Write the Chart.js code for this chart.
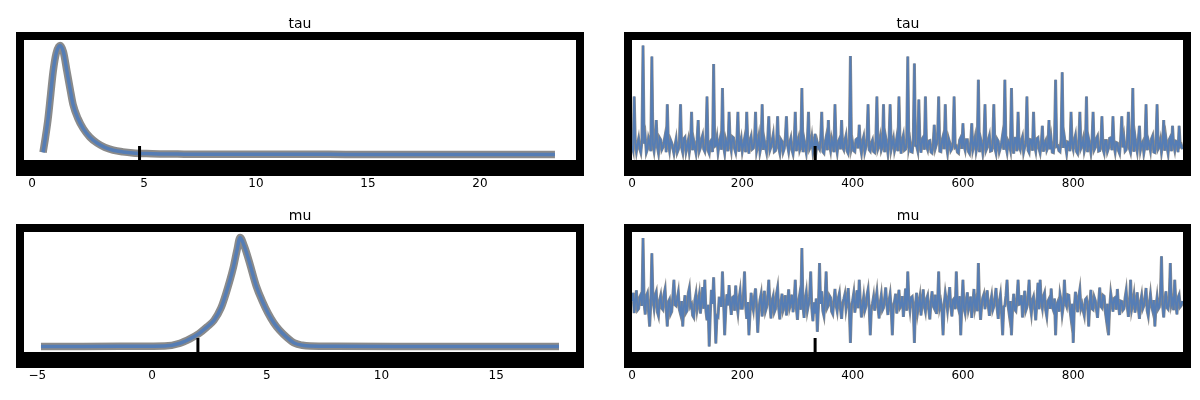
<!DOCTYPE html>
<html><head><meta charset="utf-8">
<script src="https://cdn.jsdelivr.net/npm/chart.js@4.4.1/dist/chart.umd.min.js"></script>
<style>
html,body{margin:0;padding:0;background:#fff;}
#wrap{position:relative;width:1200px;height:400px;overflow:hidden;background:#fff;}
canvas{position:absolute;}
</style></head><body>
<div id="wrap">
<canvas id="c1" width="600" height="200" style="left:0px;top:0px"></canvas>
<canvas id="c2" width="616" height="200" style="left:584px;top:0px"></canvas>
<canvas id="c3" width="600" height="208" style="left:0px;top:192px"></canvas>
<canvas id="c4" width="616" height="208" style="left:584px;top:192px"></canvas>
</div>
<script>
// ---- data ----
const varNames = ['tau', 'mu'];

// KDE of tau (posterior density)
const tauGrid = [0.49, 0.60, 0.71, 0.83, 0.94, 1.08, 1.25, 1.40, 1.56, 1.70, 1.83, 2.05, 2.28, 2.58, 2.90, 3.25, 3.62, 4.05, 4.51, 5.10, 5.71, 6.50, 7.50, 8.50, 10.0, 12.0, 14.0, 16.0, 18.0, 20.0, 22.0, 23.35];
const tauDensity = [0.014, 0.112, 0.224, 0.385, 0.532, 0.651, 0.700, 0.658, 0.532, 0.420, 0.322, 0.231, 0.168, 0.112, 0.074, 0.046, 0.028, 0.017, 0.010, 0.006, 0.004, 0.003, 0.002, 0.002, 0.0014, 0.0014, 0.001, 0.0007, 0.0007, 0.0007, 0.0004, 0.0];

// KDE of mu
const muGrid = [-4.84, -3.0, -1.4, 0.0, 0.55, 1.22, 1.65, 2.05, 2.40, 2.70, 3.00, 3.23, 3.55, 3.70, 3.84, 4.02, 4.22, 4.55, 4.80, 5.06, 5.30, 5.55, 5.90, 6.22, 6.55, 6.89, 8.0, 10.8, 13.0, 15.5, 17.74];
const muDensity = [0.0, 0.001, 0.002, 0.003, 0.004, 0.026, 0.060, 0.102, 0.153, 0.204, 0.298, 0.417, 0.621, 0.748, 0.850, 0.782, 0.672, 0.468, 0.357, 0.259, 0.187, 0.129, 0.068, 0.026, 0.010, 0.004, 0.002, 0.001, 0.001, 0.0004, 0.0];

// trace of tau (every 2nd draw)
const tauTrace = [
2.3,1.4,12.6,3.0,1.1,2.6,3.8,1.7,0.9,3.4,23.3,2.8,4.2,0.9,1.6,3.9,3.1,1.2,21.0,2.5,
1.2,3.3,7.7,2.1,0.8,4.0,3.6,1.5,2.0,3.1,4.4,1.0,11.0,2.7,1.3,3.5,2.9,1.8,0.7,2.4,
3.7,0.9,1.5,3.2,11.0,1.9,0.9,3.8,4.1,1.1,2.2,3.4,1.0,2.6,9.4,1.4,3.3,2.0,0.8,3.6,
7.7,1.2,1.9,3.7,4.5,1.6,1.1,2.9,12.6,1.3,0.7,3.1,3.5,1.0,19.4,2.2,2.4,3.9,1.0,2.7,
3.9,1.5,14.4,2.3,0.8,3.6,2.7,1.2,9.4,2.9,1.4,4.2,4.0,1.7,0.9,3.0,9.4,1.1,2.6,3.8,
1.2,2.5,3.8,1.0,9.4,2.8,0.7,3.5,4.3,1.6,1.8,3.2,9.4,1.3,2.5,4.1,1.0,2.2,11.0,1.5,
3.4,2.0,0.9,3.7,8.5,1.4,2.1,3.3,4.6,1.1,1.3,2.8,8.5,1.9,0.8,3.6,3.2,1.0,1.7,4.0,
8.5,2.4,1.1,3.0,3.9,1.5,0.6,2.7,9.4,1.2,2.8,3.8,1.4,2.1,14.4,1.0,3.6,2.3,0.9,3.4,
9.4,1.7,2.2,3.9,1.2,2.6,4.8,1.3,3.0,2.0,1.6,3.5,9.4,1.1,0.8,2.9,4.1,1.4,7.7,2.5,
1.3,3.7,2.6,1.0,11.0,2.3,0.9,3.1,3.7,1.6,7.7,2.0,1.5,3.4,4.4,1.2,0.7,2.8,21.1,1.9,
2.9,1.3,1.1,3.6,3.8,1.8,6.7,2.2,0.8,3.3,4.2,1.0,2.0,3.7,11.0,1.5,1.2,2.9,3.5,1.1,
0.9,3.0,12.6,1.7,2.4,3.9,1.4,2.1,11.0,1.0,4.0,2.6,0.8,3.4,11.0,1.6,2.7,3.8,1.3,2.3,
3.9,1.2,12.6,2.8,0.7,3.5,4.5,1.4,1.6,3.1,21.0,2.0,3.2,1.1,1.0,3.6,19.5,2.4,2.3,1.3,
12.0,2.9,0.9,3.7,4.1,1.5,12.6,2.2,1.5,3.3,3.4,1.0,0.8,2.6,6.7,1.8,2.6,3.9,12.6,1.2,
1.1,3.4,4.3,1.6,11.0,2.5,0.9,3.8,3.0,1.3,1.7,3.1,12.6,2.0,2.2,1.0,0.8,3.5,4.0,1.7,
7.0,2.3,1.4,3.6,3.6,1.1,0.7,2.8,7.0,1.5,2.5,3.9,1.2,2.4,16.1,1.0,3.8,2.7,0.9,3.2,
11.0,1.4,2.0,3.5,4.4,1.2,1.3,2.9,11.0,1.8,0.8,3.7,3.3,1.1,1.9,3.0,4.6,1.5,16.1,2.2,
1.0,3.3,2.8,1.6,14.4,2.5,0.7,3.9,3.9,1.2,9.4,2.1,1.5,3.4,4.2,1.0,2.1,2.9,12.6,1.4,
0.9,3.6,3.5,1.3,9.4,2.3,1.2,3.8,4.0,1.7,0.8,2.6,6.5,1.1,2.7,3.3,1.4,2.0,7.7,1.6,
3.6,1.0,0.9,3.4,16.1,2.2,2.3,1.3,1.1,3.7,17.7,1.9,4.1,2.4,0.8,3.1,3.0,1.2,9.4,2.6,
1.6,3.5,4.5,1.1,0.7,2.9,9.4,1.8,2.4,3.6,1.2,2.2,12.6,1.0,3.7,2.5,0.9,3.2,9.4,1.5,
2.0,3.8,4.3,1.2,1.3,2.7,8.5,1.6,0.8,3.4,3.4,1.1,1.8,3.9,4.0,1.4,8.5,2.3,1.0,3.0,
2.9,1.3,0.7,3.6,8.5,2.0,3.8,1.2,1.5,3.3,9.4,1.7,0.9,2.8,14.4,1.1,4.2,2.4,1.1,3.5,
6.5,1.5,2.6,3.1,0.8,2.2,11.0,1.4,3.5,2.6,1.3,3.8,4.4,1.0,0.9,3.0,11.0,1.7,2.2,3.4,
1.0,2.7,7.7,1.3,3.9,2.1,0.7,3.6,4.1,1.2,6.5,2.5,1.4,3.3,3.2,1.0,6.5,2.2,2.5,1.6
];

// trace of mu (every 2nd draw)
const muTrace = [
4.6,6.3,2.1,4.9,6.8,2.7,3.0,5.4,5.9,3.6,17.7,4.1,1.8,5.6,6.2,2.4,-0.7,3.9,14.5,5.0,
3.2,5.8,6.5,2.3,1.5,4.7,5.7,3.1,2.8,6.0,7.1,2.9,-0.7,4.4,4.9,1.9,2.4,5.5,9.0,3.8,
3.6,5.1,6.4,2.8,1.9,4.6,-0.7,3.3,5.8,2.2,2.6,6.2,7.3,3.5,3.9,1.6,1.2,4.8,6.1,2.9,
4.4,5.9,2.0,4.3,7.5,3.0,9.0,2.5,0.6,3.8,-4.85,2.1,6.9,4.0,9.5,3.2,-4.2,1.5,1.3,5.2,
5.2,3.4,10.7,4.5,-2.5,2.8,6.0,3.7,7.9,4.2,1.7,5.3,5.5,2.6,7.8,3.9,2.2,5.0,6.6,3.1,
3.1,5.7,10.7,3.6,0.9,4.4,-2.5,2.0,6.3,3.9,2.7,5.5,7.2,3.2,-2.0,2.6,4.8,6.0,1.4,4.1,
6.7,2.5,3.3,5.4,9.0,3.8,1.0,4.7,5.6,2.3,2.9,6.1,7.4,3.0,0.8,4.2,6.1,2.7,3.5,5.8,
1.6,4.0,7.0,3.3,4.2,5.9,2.3,4.6,9.0,3.1,0.7,4.4,5.9,2.8,15.6,3.6,1.1,4.9,6.4,2.6,
3.8,5.6,10.7,3.0,0.4,4.3,2.0,5.1,-1.8,3.4,12.5,4.0,6.6,2.5,1.5,4.8,10.7,3.2,3.7,5.7,
5.3,2.4,1.9,4.5,7.1,3.7,2.5,5.2,6.2,2.9,0.9,4.1,5.0,6.0,3.0,4.6,7.3,2.8,-4.1,3.5,
4.7,6.2,2.2,4.0,6.8,3.1,9.0,4.5,1.2,3.6,5.4,2.6,3.4,5.8,7.0,3.3,-2.5,2.9,4.1,5.5,
2.6,4.8,6.5,3.4,1.0,4.2,5.8,2.7,3.2,5.1,7.4,3.8,1.7,4.6,6.0,2.9,-2.5,3.7,4.5,6.1,
2.0,4.4,6.9,3.2,3.6,5.6,1.3,4.0,7.2,2.6,10.7,4.7,2.8,5.3,5.5,3.0,-4.1,3.9,6.3,2.4,
3.9,5.4,1.6,4.1,7.0,3.5,2.4,5.0,5.7,2.8,0.8,4.3,6.6,3.6,3.1,5.9,1.9,4.2,10.7,3.3,
4.3,2.6,-2.5,3.9,6.2,4.6,2.7,5.3,7.5,3.4,1.4,4.8,5.1,2.9,10.7,4.0,3.0,5.6,-2.5,3.7,
9.0,3.1,2.1,4.7,6.4,2.8,3.8,5.5,1.1,4.0,7.1,3.3,4.6,2.5,12.5,4.4,0.7,3.8,5.3,6.0,
2.9,4.9,6.8,3.6,1.5,4.3,5.6,2.7,3.4,5.2,7.3,3.0,0.9,4.5,5.9,2.3,-2.5,3.4,3.6,5.7,
9.0,3.5,1.8,4.6,-2.5,3.1,6.1,2.8,2.5,5.0,9.0,3.9,4.0,5.8,1.2,4.2,6.7,2.6,3.3,5.3,
9.0,3.7,2.0,4.8,5.5,3.2,0.6,4.1,8.4,2.9,9.0,4.4,3.1,5.6,6.3,2.7,1.4,4.5,5.0,3.0,
7.2,3.4,2.7,5.1,-2.5,3.8,4.4,2.4,6.0,4.7,1.9,3.6,9.0,4.2,3.5,5.9,5.8,2.8,1.0,4.0,
-4.1,3.3,6.5,4.4,2.3,5.5,7.0,3.1,3.9,2.6,1.6,4.9,5.2,3.7,-0.7,4.1,6.9,3.0,2.8,5.4,
4.7,2.9,1.1,4.3,7.4,3.5,3.2,5.8,5.6,2.5,0.8,4.0,-2.5,3.2,6.2,4.5,2.4,5.1,5.3,2.8,
7.1,3.8,1.7,4.6,4.5,2.7,3.0,5.3,6.8,3.4,1.3,4.2,9.0,2.9,4.1,5.7,2.2,3.9,6.4,3.1,
0.9,4.4,5.7,3.0,3.6,5.2,7.3,2.6,1.5,4.1,6.0,3.6,2.6,4.8,-0.7,3.5,5.4,2.9,3.3,5.6,
13.9,3.7,1.2,4.5,6.6,3.2,2.9,5.0,12.5,3.9,4.8,2.7,9.0,4.3,1.8,5.3,5.9,3.4,3.7,4.6
];

const drawStep = 2;
const divergentDraws = [332];

// tick labels
const tauKdeTicks = [0, 5, 10, 15, 20];
const muKdeTicks = [-5, 0, 5, 10, 15];
const drawTicks = [0, 200, 400, 600, 800];
const tauTraceTicks = [0, 10, 20];
const muTraceTicks = [0, 10];

// axis limits
const tauKdeX = [-0.36, 24.29];
const tauKdeY = [-0.035, 0.735];
const muKdeX = [-5.58, 18.48];
const muKdeY = [-0.0425, 0.8925];
const drawRange = [0, 999];
const tauTraceY = [-0.65, 24.43];
const muTraceY = [-5.99, 18.93];

// ---- drawing ----
const BLUE = '#557db5';
const HALO = '#8a8a8a';
const FONT = 'DejaVu Sans';
const draws = tauTrace.map((_, i) => i * drawStep);
const pts = (xs, ys) => xs.map((x, i) => ({x: x, y: ys[i]}));
const fmt = v => (v < 0 ? '\u2212' + Math.abs(v) : String(v));

const framePlugin = {
  id: 'frame',
  beforeDatasetsDraw(chart) {
    const a = chart.chartArea, ctx = chart.ctx;
    ctx.save();
    ctx.fillStyle = '#000';
    ctx.fillRect(a.left - 8, a.top - 8, a.right - a.left + 16, a.bottom - a.top + 24);
    ctx.fillStyle = '#fff';
    ctx.fillRect(a.left, a.top, a.right - a.left, a.bottom - a.top);
    ctx.restore();
  }
};

function xAxis(range, ticks) {
  return {
    type: 'linear', min: range[0], max: range[1],
    grid: {display: false, drawTicks: false}, border: {display: false},
    ticks: {color: '#000', font: {family: FONT, size: 12}, padding: 17, autoSkip: false, maxRotation: 0, includeBounds: false, callback: fmt},
    afterBuildTicks(s) { s.ticks = ticks.map(v => ({value: v})); },
    afterFit(s) { s.height = 40; }
  };
}
function yAxis(range, ticks) {
  if (!ticks) return {type: 'linear', display: false, min: range[0], max: range[1]};
  return {
    type: 'linear', min: range[0], max: range[1],
    grid: {display: false, drawTicks: false}, border: {display: false},
    ticks: {color: '#000', font: {family: FONT, size: 12}, padding: 14, autoSkip: false, includeBounds: false, callback: fmt},
    afterBuildTicks(s) { s.ticks = ticks.map(v => ({value: v})); },
    afterFit(s) { s.width = 0; }
  };
}
// order: lower "order" values are drawn on top
function lineSets(data, w) {
  return [
    {data: data, order: 2, borderColor: HALO, borderWidth: w + 4, pointRadius: 0, tension: 0.3, cubicInterpolationMode: 'monotone', fill: false},
    {data: data, order: 1, borderColor: BLUE, borderWidth: w, pointRadius: 0, tension: 0.3, cubicInterpolationMode: 'monotone', fill: false}
  ];
}
function traceSets(data) {
  return [
    {data: data, order: 2, borderColor: HALO, borderWidth: 3, pointRadius: 0, tension: 0, fill: false},
    {data: data, order: 1, borderColor: BLUE, borderWidth: 1.8, pointRadius: 0, tension: 0, fill: false}
  ];
}
function divSet(data) {
  return {data: data, order: 0, showLine: false, pointStyle: 'line', rotation: 90, pointRadius: 14,
          pointBorderColor: '#000', pointBorderWidth: 3, borderColor: '#000', clip: false};
}
function make(id, title, datasets, xs, ys, pad) {
  new Chart(document.getElementById(id), {
    type: 'line',
    data: {datasets: datasets},
    options: {
      responsive: false, animation: false, devicePixelRatio: 1,
      events: [],
      layout: {padding: pad},
      plugins: {
        legend: {display: false}, tooltip: {enabled: false},
        title: {display: true, text: title, color: '#000', font: {family: FONT, size: 14, weight: 'normal'}, padding: {top: 0, bottom: 7.2}}
      },
      scales: {x: xs, y: ys}
    },
    plugins: [framePlugin]
  });
}

const divIdx = divergentDraws.map(d => d / drawStep);

make('c1', varNames[0],
  lineSets(pts(tauGrid, tauDensity), 3.5).concat([divSet(divIdx.map(i => ({x: tauTrace[i], y: tauKdeY[0]})))]),
  xAxis(tauKdeX, tauKdeTicks), yAxis(tauKdeY, null),
  {left: 24, right: 24, top: 16, bottom: 0});

make('c2', varNames[0],
  traceSets(pts(draws, tauTrace)).concat([divSet(divergentDraws.map(d => ({x: d, y: tauTraceY[0]})))]),
  xAxis(drawRange, drawTicks), yAxis(tauTraceY, tauTraceTicks),
  {left: 48, right: 16, top: 16, bottom: 0});

make('c3', varNames[1],
  lineSets(pts(muGrid, muDensity), 3.5).concat([divSet(divIdx.map(i => ({x: muTrace[i], y: muKdeY[0]})))]),
  xAxis(muKdeX, muKdeTicks), yAxis(muKdeY, null),
  {left: 24, right: 24, top: 16, bottom: 8});

make('c4', varNames[1],
  traceSets(pts(draws, muTrace)).concat([divSet(divergentDraws.map(d => ({x: d, y: muTraceY[0]})))]),
  xAxis(drawRange, drawTicks), yAxis(muTraceY, muTraceTicks),
  {left: 48, right: 16, top: 16, bottom: 8});
</script>
</body></html>
